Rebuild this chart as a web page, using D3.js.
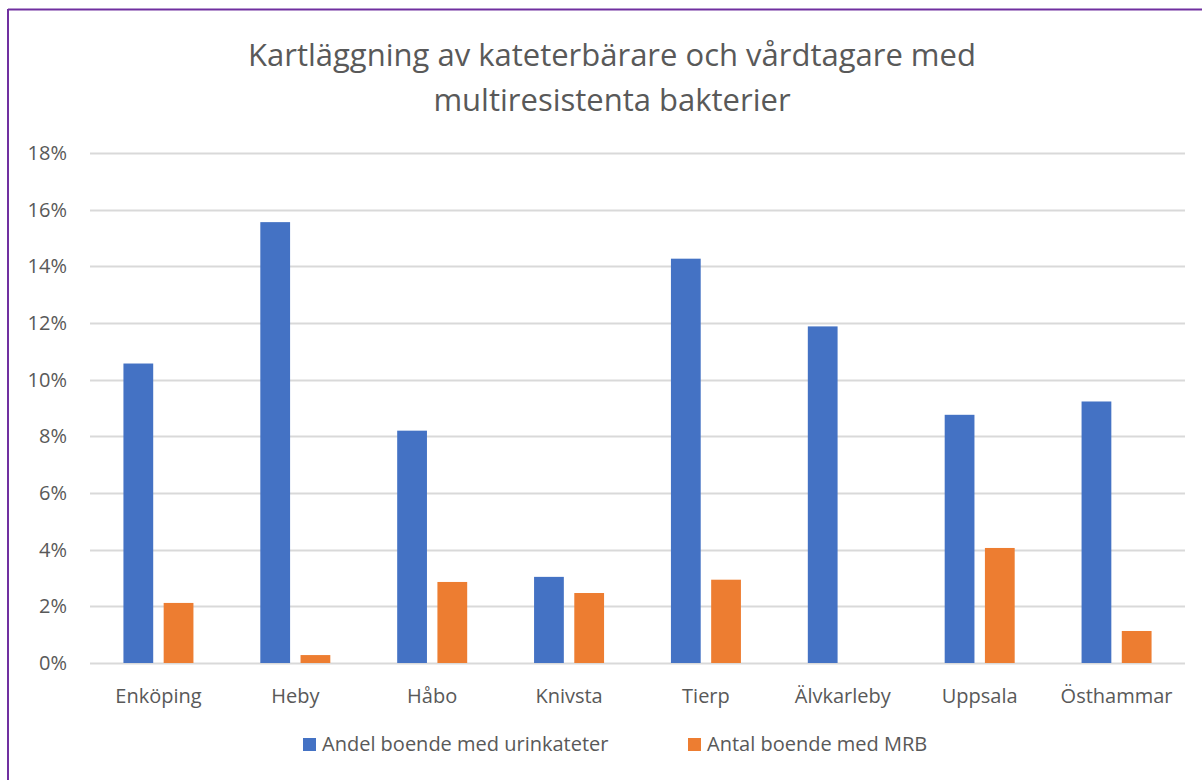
<!DOCTYPE html>
<html lang="sv">
<head>
  <meta charset="UTF-8">
  <title>Kartläggning av kateterbärare och vårdtagare med multiresistenta bakterier</title>
  <script src="https://d3js.org/d3.v7.min.js"></script>
  <style>
    body {
      margin: 0;
      background: #fff;
      font-family: "Open Sans", sans-serif;
    }
    svg { display: block; }
  </style>
</head>
<body>
  <div id="chart"></div>

  <script>
    const categories = ["Enköping", "Heby", "Håbo", "Knivsta", "Tierp", "Älvkarleby", "Uppsala", "Östhammar"];
    const seriesNames = ["Andel boende med urinkateter", "Antal boende med MRB"];
    const urinkateter = [10.57, 15.56, 8.2, 3.04, 14.27, 11.88, 8.76, 9.23];
    const mrb = [2.12, 0.28, 2.86, 2.47, 2.94, 0, 4.06, 1.13];
    const yTicks = [0, 2, 4, 6, 8, 10, 12, 14, 16, 18];
    const colors = ["#4472C4", "#ED7D31"];

    const width = 1202, height = 780;
    const margin = { top: 153, right: 17, bottom: 117, left: 90 };

    const svg = d3.select("#chart")
      .append("svg")
      .attr("width", width)
      .attr("height", height);

    // frame (left + top edges visible in original)
    svg.append("line").attr("x1", 8).attr("x2", 8).attr("y1", 9).attr("y2", height)
      .attr("stroke", "#7030A0").attr("stroke-width", 2);
    svg.append("line").attr("x1", 8).attr("x2", width).attr("y1", 9.5).attr("y2", 9.5)
      .attr("stroke", "#7030A0").attr("stroke-width", 2);

    const title = svg.append("text")
      .attr("x", 612)
      .attr("text-anchor", "middle")
      .style("font-size", "31px")
      .style("fill", "#595959");
    title.append("tspan").attr("x", 612).attr("y", 66).text("Kartläggning av kateterbärare och vårdtagare med");
    title.append("tspan").attr("x", 612).attr("y", 111).text("multiresistenta bakterier");

    const x = d3.scaleBand()
      .domain(categories)
      .range([margin.left, width - margin.right]);

    const y = d3.scaleLinear()
      .domain([0, 18])
      .range([height - margin.bottom, margin.top]);

    const inner = d3.scaleBand()
      .domain([0, 1])
      .range([0, 70])
      .paddingInner(0.26);

    // gridlines
    svg.append("g")
      .selectAll("line")
      .data(yTicks)
      .join("line")
      .attr("x1", margin.left)
      .attr("x2", width - margin.right)
      .attr("y1", d => Math.round(y(d)) + 0.5)
      .attr("y2", d => Math.round(y(d)) + 0.5)
      .attr("stroke", "#d9d9d9")
      .attr("stroke-width", 2);

    // y labels
    svg.append("g")
      .selectAll("text")
      .data(yTicks)
      .join("text")
      .attr("x", 67)
      .attr("y", d => y(d))
      .attr("dy", "0.35em")
      .attr("text-anchor", "end")
      .style("font-size", "20px")
      .style("fill", "#595959")
      .text(d => d + "%");

    // bars
    const groups = svg.append("g")
      .selectAll("g")
      .data(categories)
      .join("g")
      .attr("transform", d => `translate(${x(d) + x.bandwidth() / 2 - 35},0)`);

    groups.selectAll("rect")
      .data((d, i) => [urinkateter[i], mrb[i]])
      .join("rect")
      .attr("x", (d, j) => inner(j))
      .attr("width", inner.bandwidth())
      .attr("y", d => y(d))
      .attr("height", d => y(0) - y(d))
      .attr("fill", (d, j) => colors[j]);

    // x labels
    svg.append("g")
      .selectAll("text")
      .data(categories)
      .join("text")
      .attr("x", d => x(d) + x.bandwidth() / 2)
      .attr("y", 703)
      .attr("text-anchor", "middle")
      .style("font-size", "20px")
      .style("fill", "#595959")
      .text(d => d);

    // legend
    const legendX = [303, 688];
    const legend = svg.append("g")
      .selectAll("g")
      .data(seriesNames)
      .join("g")
      .attr("transform", (d, i) => `translate(${legendX[i]},738)`);
    legend.append("rect")
      .attr("width", 13).attr("height", 13)
      .attr("fill", (d, i) => colors[i]);
    legend.append("text")
      .attr("x", 19).attr("y", 13)
      .style("font-size", "20px")
      .style("fill", "#595959")
      .text(d => d);
  </script>
</body>
</html>
